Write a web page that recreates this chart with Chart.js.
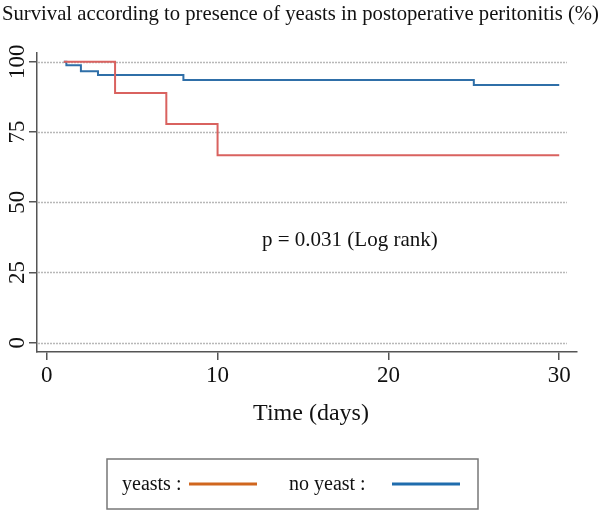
<!doctype html>
<html>
<head>
    <title>Survival yeasts</title>
    <script src="https://cdn.jsdelivr.net/npm/chart.js@4/dist/chart.umd.min.js"></script>
    <style>
    body { margin: 0; background: #fff; }
    #container { width: 600px; height: 513px; }
    </style>
</head>
<body>
    <div id="container"><canvas id="canvas" width="600" height="513"></canvas></div>
    <script>
        // Kaplan-Meier steps
        var TIMES_YEASTS = [1, 4, 7, 10, 30];
        var SURV_YEASTS = [100, 88.9, 77.8, 66.7, 66.7];
        var TIMES_NO_YEAST = [1, 1.15, 2, 3, 8, 25, 30];
        var SURV_NO_YEAST = [100, 98.7, 96.6, 95.3, 93.5, 91.7, 91.7];
        var X_TICKS = [0, 10, 20, 30];
        var Y_TICKS = [0, 25, 50, 75, 100];

        var SERIF = "'Liberation Serif', 'DejaVu Serif', serif";
        var RED = '#d9625f';
        var BLUE = '#2f6fa8';

        function toPoints(xs, ys) {
            return xs.map(function(x, i) { return {x: x, y: ys[i]}; });
        }

        var extras = {
            id: 'extras',
            beforeDatasetsDraw: function(chart) {
                var ctx = chart.ctx, xs = chart.scales.x, ys = chart.scales.y;
                ctx.save();
                ctx.strokeStyle = '#b8b8b8';
                ctx.lineWidth = 1.5;
                ctx.setLineDash([2, 1]);
                Y_TICKS.forEach(function(v) {
                    var y = Math.round(ys.getPixelForValue(v)) + 0.5;
                    ctx.beginPath();
                    ctx.moveTo(chart.chartArea.left + 1, y);
                    ctx.lineTo(xs.getPixelForValue(30.45), y);
                    ctx.stroke();
                });
                ctx.restore();
            },
            afterDraw: function(chart) {
                var ctx = chart.ctx, ys = chart.scales.y;
                ctx.save();
                ctx.fillStyle = '#111';
                // rotated y labels
                ctx.font = '23px ' + SERIF;
                ctx.textAlign = 'center';
                ctx.textBaseline = 'middle';
                Y_TICKS.forEach(function(v) {
                    ctx.save();
                    ctx.translate(17, ys.getPixelForValue(v));
                    ctx.rotate(-Math.PI / 2);
                    ctx.fillText(String(v), 0, 1);
                    ctx.restore();
                });
                // title
                ctx.textAlign = 'left';
                ctx.textBaseline = 'alphabetic';
                ctx.font = '20.7px ' + SERIF;
                ctx.fillText('Survival according to presence of yeasts in postoperative peritonitis (%)', 2, 20);
                // p value
                ctx.font = '21px ' + SERIF;
                ctx.fillText('p = 0.031 (Log rank)', 262, 246);
                // x title
                ctx.font = '24px ' + SERIF;
                ctx.textAlign = 'center';
                ctx.fillText('Time (days)', 311, 420);
                // legend box
                ctx.strokeStyle = '#777';
                ctx.lineWidth = 1.5;
                ctx.strokeRect(107, 459, 371, 50);
                ctx.textAlign = 'left';
                ctx.font = '20px ' + SERIF;
                ctx.fillText('yeasts :', 122, 490);
                ctx.fillText('no yeast :', 289, 490);
                ctx.lineWidth = 3;
                ctx.strokeStyle = '#d0661e';
                ctx.beginPath(); ctx.moveTo(189, 484); ctx.lineTo(257, 484); ctx.stroke();
                ctx.strokeStyle = '#1f6cad';
                ctx.beginPath(); ctx.moveTo(392, 484); ctx.lineTo(460, 484); ctx.stroke();
                ctx.restore();
            }
        };

        window.onload = function() {
            var ctx = document.getElementById("canvas").getContext("2d");
            window.myChart = new Chart(ctx, {
                type: 'line',
                data: {
                    datasets: [{
                        label: 'yeasts',
                        data: toPoints(TIMES_YEASTS, SURV_YEASTS),
                        borderColor: RED,
                        borderWidth: 2,
                        stepped: true,
                        pointRadius: 0,
                        fill: false
                    }, {
                        label: 'no yeast',
                        data: toPoints(TIMES_NO_YEAST, SURV_NO_YEAST),
                        borderColor: BLUE,
                        borderWidth: 2,
                        stepped: true,
                        pointRadius: 0,
                        fill: false
                    }]
                },
                options: {
                    responsive: false,
                    animation: false,
                    maintainAspectRatio: false,
                    devicePixelRatio: 1,
                    layout: { padding: { top: 53, right: 23, left: 0, bottom: 0 } },
                    plugins: {
                        legend: { display: false },
                        title: { display: false },
                        tooltip: { enabled: false }
                    },
                    scales: {
                        x: {
                            type: 'linear',
                            min: -0.57,
                            max: 31.04,
                            afterBuildTicks: function(s) { s.ticks = X_TICKS.map(function(v) { return {value: v}; }); },
                            afterFit: function(s) { s.height = 161; },
                            grid: { drawOnChartArea: false, tickLength: 8, color: '#555', lineWidth: 1.5 },
                            border: { color: '#555', width: 1.5 },
                            ticks: { color: '#111', maxRotation: 0, padding: 2, font: { family: SERIF, size: 23 } }
                        },
                        y: {
                            type: 'linear',
                            min: -3.31,
                            max: 103.1,
                            afterBuildTicks: function(s) { s.ticks = Y_TICKS.map(function(v) { return {value: v}; }); },
                            afterFit: function(s) { s.width = 37; },
                            grid: { drawOnChartArea: false, tickLength: 8, color: '#555', lineWidth: 1.5 },
                            border: { color: '#555', width: 1.5 },
                            ticks: { display: false }
                        }
                    }
                },
                plugins: [extras]
            });
        };
    </script>
</body>
</html>
